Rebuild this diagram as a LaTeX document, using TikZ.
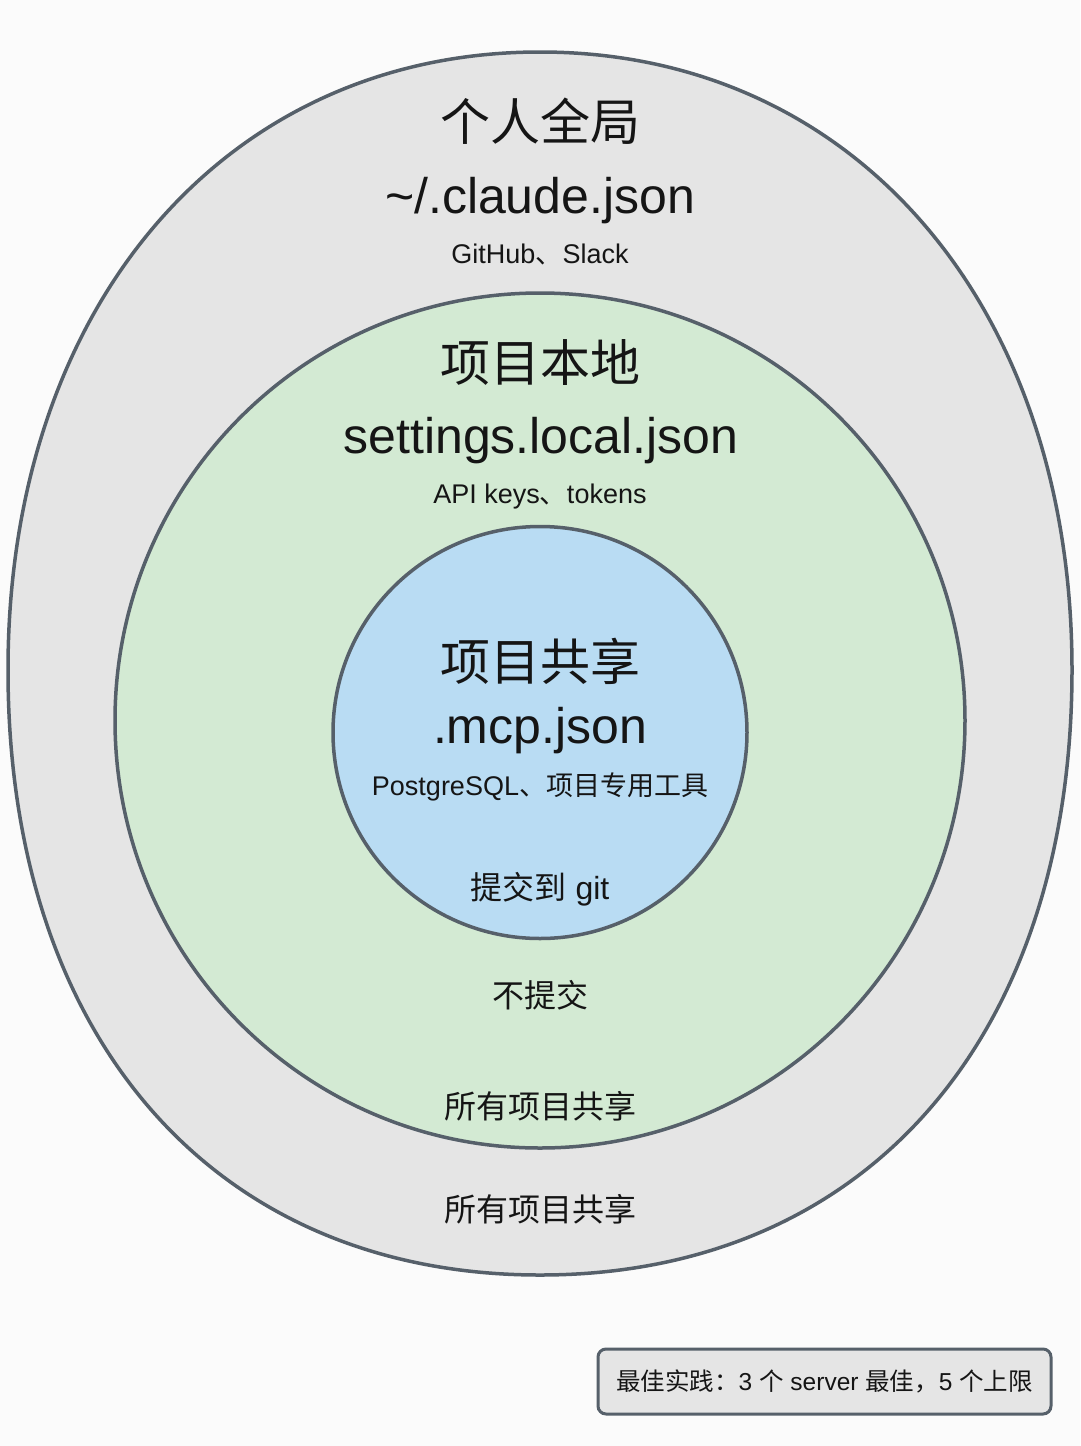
\documentclass[tikz,border=0pt]{standalone}
\usepackage{fontspec}
\setmainfont{Liberation Sans}
\newfontfamily\cjk{Noto Sans CJK SC}
\usetikzlibrary{shapes.geometric}
\definecolor{bgc}{HTML}{FBFBFB}
\definecolor{grayfill}{HTML}{E5E5E5}
\definecolor{greenfill}{HTML}{D3EAD3}
\definecolor{bluefill}{HTML}{B9DCF3}
\definecolor{edge}{HTML}{56606A}
\definecolor{txt}{HTML}{151515}
\newcommand{\fs}[1]{\fontsize{#1}{#1}\selectfont}
\tikzset{
  ringline/.style={draw=edge, line width=3.5pt},
  ring/.style={ellipse, ringline, inner sep=0pt},
  big/.style={text=txt, inner sep=0pt, font=\fs{50}},
  small/.style={text=txt, inner sep=0pt, font=\fs{27}},
  mid/.style={text=txt, inner sep=0pt, font=\fs{32}},
  notebox/.style={draw=edge, line width=3pt, rounded corners=8pt, fill=grayfill, inner sep=0pt}
}
\begin{document}
\begin{tikzpicture}[x=1pt,y=-1pt]
\fill[bgc] (0,0) rectangle (1080,1446);
\useasboundingbox (0,0) rectangle (1080,1446);
% outer ring (slightly squarish oval)
\coordinate (outer) at (540,670);
\coordinate (oT) at (540,52);
\coordinate (oL) at (8,670);
\coordinate (oB) at (540,1275);
\coordinate (oR) at (1072,670);
\path[ringline, fill=grayfill]
  (oT) .. controls (226,52) and (8,305) .. (oL)
       .. controls (8,1039) and (215,1275) .. (oB)
       .. controls (865,1275) and (1072,1039) .. (oR)
       .. controls (1072,305) and (854,52) .. (oT) -- cycle;
% inner rings
\node[ring, fill=greenfill, minimum width=850pt, minimum height=855pt] (middle) at (540,720.5) {};
\node[ring, fill=bluefill, minimum width=414pt, minimum height=412pt] (inner) at (540,732.5) {};
% outer texts
\node[big] (t1) at (540,121) {\cjk 个人全局};
\node[big, anchor=base] (f1) at (540,213) {\textasciitilde/.claude.json};
\node[small, anchor=base] (e1) at (540,263) {GitHub{\cjk 、}Slack};
% middle texts
\node[big] (t2) at (540,362) {\cjk 项目本地};
\node[big, anchor=base] (f2) at (541,453) {settings.local.json};
\node[small, anchor=base] (e2) at (540,503) {API keys{\cjk 、}tokens};
% inner texts
\node[big] (t3) at (540,661) {\cjk 项目共享};
\node[big, anchor=base] (f3) at (540,743) {.mcp.json};
\node[small, anchor=base] (e3) at (540,795) {PostgreSQL{\cjk 、项目专用工具}};
\node[mid, anchor=base] (g3) at (540,899) {{\cjk 提交到} git};
% scope notes
\node[mid] (n2) at (540,995) {\cjk 不提交};
\node[mid] (s2) at (540,1106) {\cjk 所有项目共享};
\node[mid] (s1) at (540,1209) {\cjk 所有项目共享};
% best practice box
\node[notebox, minimum width=453pt, minimum height=65pt] (box) at (824.5,1381.5) {};
\node[text=txt, font=\fs{24.5}, inner sep=0pt] (boxt) at (box.center) {{\cjk 最佳实践：}3 {\cjk 个} server {\cjk 最佳，}5 {\cjk 个上限}};
\end{tikzpicture}
\end{document}
